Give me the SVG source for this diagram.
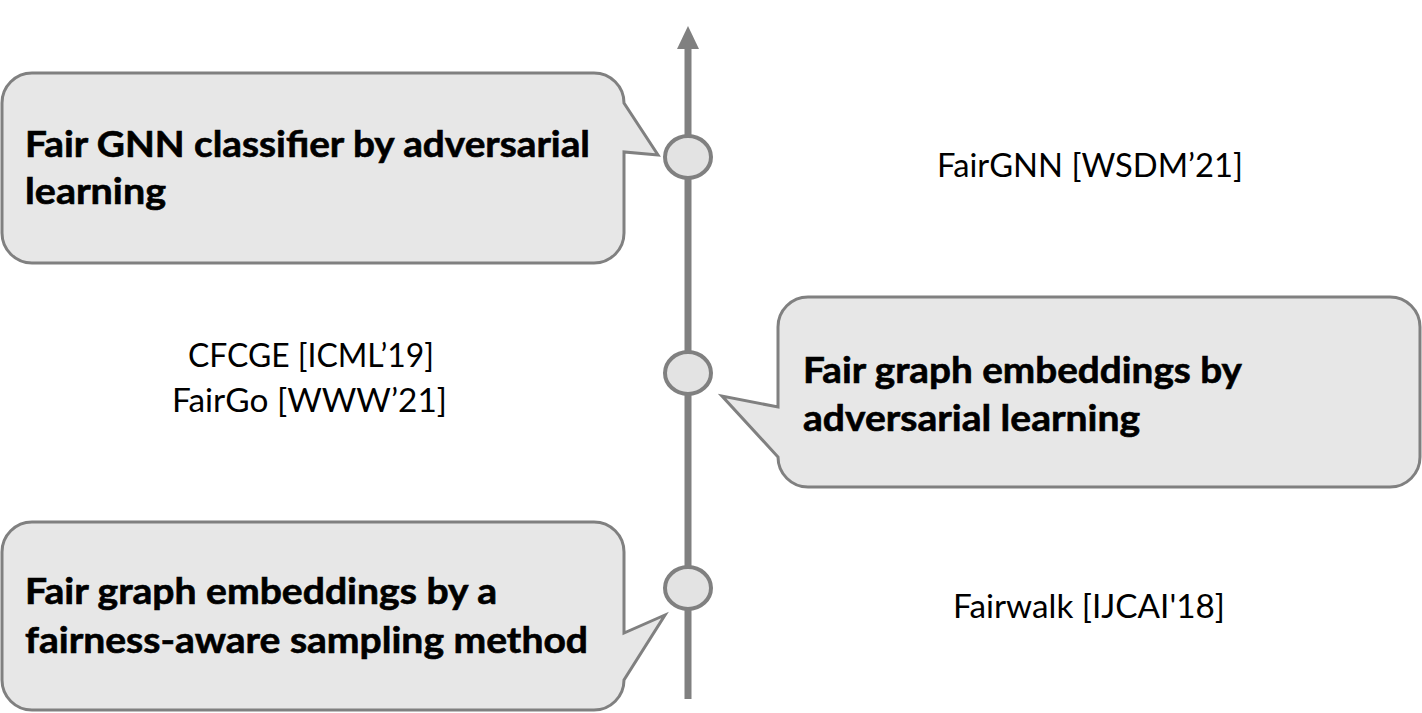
<svg xmlns="http://www.w3.org/2000/svg" width="1422" height="713" viewBox="0 0 1422 713">
<style>
.callout{fill:#e7e7e7;stroke:#808080;stroke-width:3;stroke-linejoin:miter}
.dot{fill:#e3e3e3;stroke:#808080;stroke-width:4}
.bold{font-family:Lato,"Open Sans","Liberation Sans",sans-serif;font-weight:bold;font-size:36px;fill:#000;stroke:#000;stroke-width:0.6}
.reg{font-family:Lato,"Open Sans","Liberation Sans",sans-serif;font-size:33px;fill:#000}
</style>
<rect width="1422" height="713" fill="#fff"/>
<g id="connectors">
<line x1="688" y1="699" x2="688" y2="47" stroke="#808080" stroke-width="7"/>
<polygon points="677,49 688,26 699,49" fill="#808080"/>
</g>
<g id="node-fairgnn">
<path class="callout" d="M 32 73 H 594 A 30 30 0 0 1 624 103 L 658 155 L 624 152 V 233 A 30 30 0 0 1 594 263 H 32 A 30 30 0 0 1 2 233 V 103 A 30 30 0 0 1 32 73 Z"/>
<text class="bold" x="25" y="157" textLength="565" lengthAdjust="spacingAndGlyphs">Fair GNN classifier by adversarial</text>
<text class="bold" x="25" y="204" textLength="141" lengthAdjust="spacingAndGlyphs">learning</text>
<ellipse class="dot" cx="688" cy="157" rx="23" ry="21"/>
<text class="reg" x="937" y="177" textLength="306" lengthAdjust="spacingAndGlyphs">FairGNN [WSDM’21]</text>
</g>
<g id="node-adversarial-embeddings">
<path class="callout" d="M 808 297 H 1390 A 30 30 0 0 1 1420 327 V 457 A 30 30 0 0 1 1390 487 H 808 A 30 30 0 0 1 778 457 L 722 396 L 778 407 V 327 A 30 30 0 0 1 808 297 Z"/>
<text class="bold" x="803" y="383" textLength="439" lengthAdjust="spacingAndGlyphs">Fair graph embeddings by</text>
<text class="bold" x="803" y="431" textLength="337" lengthAdjust="spacingAndGlyphs">adversarial learning</text>
<ellipse class="dot" cx="688" cy="373" rx="23" ry="21"/>
<text class="reg" x="188" y="367" textLength="246" lengthAdjust="spacingAndGlyphs">CFCGE [ICML’19]</text>
<text class="reg" x="172" y="412" textLength="275" lengthAdjust="spacingAndGlyphs">FairGo [WWW’21]</text>
</g>
<g id="node-fairwalk">
<path class="callout" d="M 32 522 H 594 A 30 30 0 0 1 624 552 V 633 L 665 615 L 624 680 A 30 30 0 0 1 594 710 H 32 A 30 30 0 0 1 2 680 V 552 A 30 30 0 0 1 32 522 Z"/>
<text class="bold" x="25" y="604" textLength="472" lengthAdjust="spacingAndGlyphs">Fair graph embeddings by a</text>
<text class="bold" x="25" y="653" textLength="563" lengthAdjust="spacingAndGlyphs">fairness-aware sampling method</text>
<ellipse class="dot" cx="688" cy="588" rx="23" ry="21"/>
<text class="reg" x="953" y="618" textLength="272" lengthAdjust="spacingAndGlyphs">Fairwalk [IJCAI'18]</text>
</g>
</svg>
